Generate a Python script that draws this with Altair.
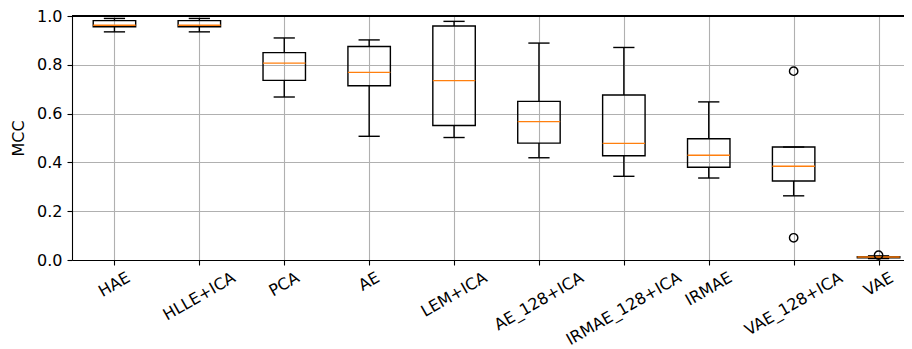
import altair as alt
import pandas as pd

names = ["HAE", "HLLE+ICA", "PCA", "AE", "LEM+ICA", "AE_128+ICA",
         "IRMAE_128+ICA", "IRMAE", "VAE_128+ICA", "VAE"]
whislo = [0.935, 0.935, 0.668, 0.507, 0.502, 0.419, 0.343, 0.336, 0.263, 0.006]
q1 = [0.956, 0.956, 0.736, 0.714, 0.551, 0.479, 0.427, 0.380, 0.324, 0.009]
med = [0.962, 0.962, 0.807, 0.769, 0.735, 0.567, 0.478, 0.429, 0.384, 0.012]
q3 = [0.981, 0.981, 0.850, 0.875, 0.959, 0.650, 0.676, 0.497, 0.463, 0.014]
whishi = [0.990, 0.990, 0.910, 0.902, 0.978, 0.889, 0.871, 0.648, 0.463, 0.017]
out_names = ["VAE_128+ICA", "VAE_128+ICA", "VAE"]
out_vals = [0.774, 0.091, 0.020]

FS = 16
FONT = "DejaVu Sans"
PLOT_H = 244
PLOT_W = 832          # visible part of the plot area
FULL_W = 849          # full axis length (runs past the right page edge)

# approximate DejaVu Sans advance widths (em) for the rotated label layout
cw = {"H": .752, "A": .684, "E": .632, "L": .557, "+": .838, "I": .295,
      "C": .698, "P": .603, "M": .863, "_": .5, "1": .636, "2": .636,
      "8": .636, "R": .695, "V": .684}

pos = list(range(1, len(names) + 1))
df = pd.DataFrame({"name": names, "pos": pos, "whislo": whislo, "q1": q1,
                   "med": med, "q3": q3, "whishi": whishi})
lab_off = [PLOT_H + 9.5 + (sum(cw.get(c, .6) for c in n) * FS * 0.5 + FS * 1.0 * 0.866) / 2
           for n in names]
lab = pd.DataFrame({"name": names, "pos": pos, "ly": lab_off})
odf = pd.DataFrame({"pos": [names.index(n) + 1 for n in out_names], "v": out_vals})

xs = alt.Scale(domain=[0.5, 10.5], range=[0, FULL_W], nice=False, zero=False)
ys = alt.Scale(domain=[0, 1], nice=False, zero=False)
xax = alt.Axis(values=pos, labels=False, title=None, grid=True, tickSize=5,
               gridColor="#b0b0b0", gridWidth=1.1, domainColor="black",
               tickColor="black", domainWidth=1.1, tickWidth=1.1)
yax = alt.Axis(values=[0, 0.2, 0.4, 0.6, 0.8, 1.0], format=".1f", title="MCC",
               grid=True, tickSize=5, labelPadding=5, gridColor="#b0b0b0",
               gridWidth=1.1, domainColor="black", tickColor="black",
               domainWidth=1.1, tickWidth=1.1, labelFont=FONT, labelFontSize=FS,
               labelColor="black", titleFont=FONT, titleFontSize=FS,
               titleFontWeight="normal", titleColor="black", titleAngle=270,
               titleX=-54, titleY=PLOT_H / 2, titleAlign="center",
               titleBaseline="middle")

base = alt.Chart(df).transform_calculate(
    L="datum.pos - 0.25", R="datum.pos + 0.25",
    cL="datum.pos - 0.125", cR="datum.pos + 0.125")

K = "black"
SW = 1.4
whisk_lo = base.mark_rule(color=K, strokeWidth=SW).encode(
    x=alt.X("pos:Q", scale=xs, axis=xax),
    y=alt.Y("whislo:Q", scale=ys, axis=yax), y2="q1:Q")
whisk_hi = base.mark_rule(color=K, strokeWidth=SW).encode(
    x=alt.X("pos:Q", scale=xs), y=alt.Y("q3:Q", scale=ys), y2="whishi:Q")
cap_lo = base.mark_rule(color=K, strokeWidth=SW).encode(
    x=alt.X("cL:Q", scale=xs), x2="cR:Q", y=alt.Y("whislo:Q", scale=ys))
cap_hi = base.mark_rule(color=K, strokeWidth=SW).encode(
    x=alt.X("cL:Q", scale=xs), x2="cR:Q", y=alt.Y("whishi:Q", scale=ys))
box = base.mark_rect(fillOpacity=0, fill="white", stroke=K, strokeWidth=SW).encode(
    x=alt.X("L:Q", scale=xs), x2="R:Q", y=alt.Y("q1:Q", scale=ys), y2="q3:Q")
median = base.mark_rule(color="#ff7f0e", strokeWidth=SW).encode(
    x=alt.X("L:Q", scale=xs), x2="R:Q", y=alt.Y("med:Q", scale=ys))
outl = alt.Chart(odf).mark_point(shape="circle", filled=False, stroke=K,
                                 strokeWidth=SW, size=70, opacity=1).encode(
    x=alt.X("pos:Q", scale=xs), y=alt.Y("v:Q", scale=ys))
labels = alt.Chart(lab).mark_text(angle=330, align="center", baseline="middle",
                                  font=FONT, fontSize=FS, color="black").encode(
    x=alt.X("pos:Q", scale=xs), y=alt.Y("ly:Q", scale=None, axis=None),
    text="name:N")
top_spine = alt.Chart(df).mark_rule(color=K, strokeWidth=1.1).encode(
    x=alt.value(0), x2=alt.value(FULL_W), y=alt.value(0))

chart = alt.layer(whisk_lo, whisk_hi, cap_lo, cap_hi, box, median, outl, labels,
                  top_spine).properties(
    width=PLOT_W, height=PLOT_H,
    autosize=alt.AutoSizeParams(type="none"),
    padding={"left": 64, "top": 8, "right": 0, "bottom": 89},
).configure_view(strokeWidth=0).configure(background="white")

chart.save("out.html", embed_options={"renderer": "svg", "actions": False})
